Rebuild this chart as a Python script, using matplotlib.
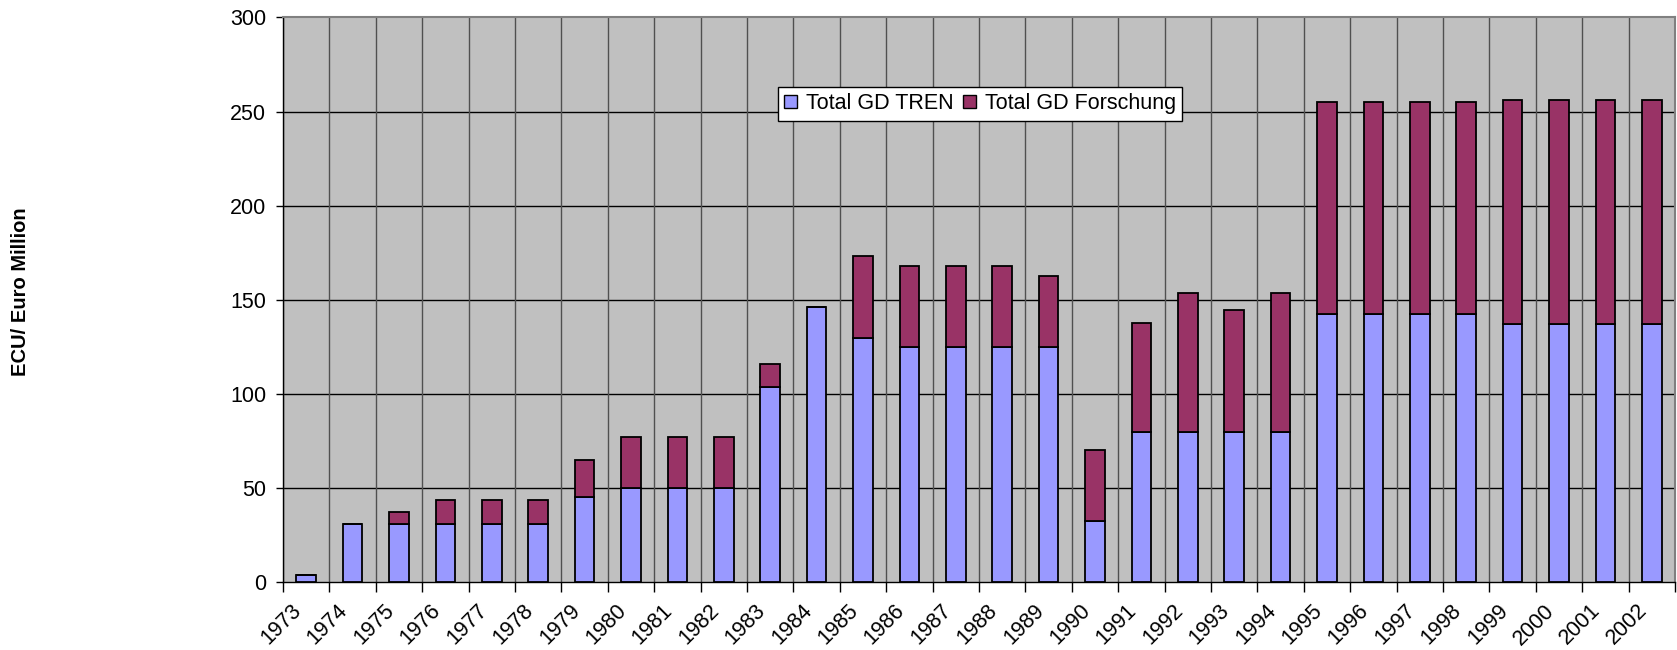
import matplotlib
matplotlib.use("Agg")
import matplotlib.pyplot as plt
from matplotlib.patches import Patch
import numpy as np

years = ["1973", "1974", "1975", "1976", "1977", "1978", "1979", "1980", "1981", "1982",
         "1983", "1984", "1985", "1986", "1987", "1988", "1989", "1990", "1991", "1992",
         "1993", "1994", "1995", "1996", "1997", "1998", "1999", "2000", "2001", "2002"]
tren = [3.5, 31, 31, 31, 31, 31, 45, 50, 50, 50,
        103.6, 146, 129.7, 125, 125, 125, 125, 32.5, 79.5, 79.5,
        79.5, 79.5, 142.5, 142.5, 142.5, 142.5, 137, 137, 137, 137]
forschung = [0, 0, 6.4, 12.8, 12.8, 12.8, 20, 26.8, 26.8, 26.8,
             12.3, 0, 43.8, 43.2, 43.2, 43.2, 37.7, 37.5, 58.2, 74,
             64.8, 74, 112.5, 112.5, 112.5, 112.5, 119, 119, 119, 119]
series_names = ["Total GD TREN", "Total GD Forschung"]
colors = ["#9999FF", "#993366"]
yticks = [0, 50, 100, 150, 200, 250, 300]

plt.rcParams['font.family'] = ['Liberation Sans', 'DejaVu Sans']

W, H = 1677, 650
fig = plt.figure(figsize=(W / 100, H / 100), dpi=100)
ax = fig.add_axes([283 / W, 1 - 582 / H, (1675 - 283) / W, (582 - 17.5) / H])
ax.set_facecolor("#C0C0C0")

x = np.arange(len(years))
bw = 0.42
ax.bar(x, tren, bw, color=colors[0], edgecolor="black", linewidth=1.3, zorder=3)
ax.bar(x, forschung, bw, bottom=tren, color=colors[1], edgecolor="black", linewidth=1.3, zorder=3)

ax.set_xlim(-0.5, len(years) - 0.5)
ax.set_ylim(0, 300)

for v in yticks[1:-1]:
    ax.axhline(v, color="black", lw=1.0, zorder=1)
for b in np.arange(len(years) + 1) - 0.5:
    ax.axvline(b, color="#505050", lw=1.0, zorder=1)

ax.set_yticks(yticks)
ax.set_yticklabels([str(v) for v in yticks], fontsize=15.5)
ax.tick_params(axis="y", length=5, width=1, pad=7, direction="out")

ax.set_xticks(np.arange(len(years) + 1) - 0.5, minor=True)
ax.tick_params(axis="x", which="minor", length=7, width=1, direction="out")
ax.set_xticks(x - 0.5 + 0.17)
ax.set_xticklabels(years, rotation=45, ha="right", va="top", rotation_mode="anchor",
                   fontsize=15.5)
ax.tick_params(axis="x", which="major", length=0, pad=13)

for s in ["left", "bottom"]:
    ax.spines[s].set_color("black")
    ax.spines[s].set_linewidth(1.0)
for s in ["top", "right"]:
    ax.spines[s].set_color("#808080")
    ax.spines[s].set_linewidth(1.5)

fig.text(21 / W, 1 - 292 / H, "ECU/ Euro Million", rotation=90, ha="center", va="center",
         fontsize=14.5, fontweight="bold")

handles = [Patch(facecolor=c, edgecolor="black", linewidth=1) for c in colors]
leg = ax.legend(handles, series_names, loc="upper left",
                bbox_to_anchor=(778 / W, 1 - 86.7 / H), bbox_transform=fig.transFigure,
                ncol=2, fontsize=15.5, frameon=True, fancybox=False, shadow=False,
                handlelength=0.6, handleheight=0.6, handletextpad=0.4, columnspacing=0.45,
                borderpad=0.3, borderaxespad=0)
leg.get_frame().set_edgecolor("black")
leg.get_frame().set_linewidth(1.0)
leg.get_frame().set_facecolor("white")
leg.get_frame().set_alpha(1)
leg.set_zorder(5)

fig.savefig("out.png", dpi=100)
